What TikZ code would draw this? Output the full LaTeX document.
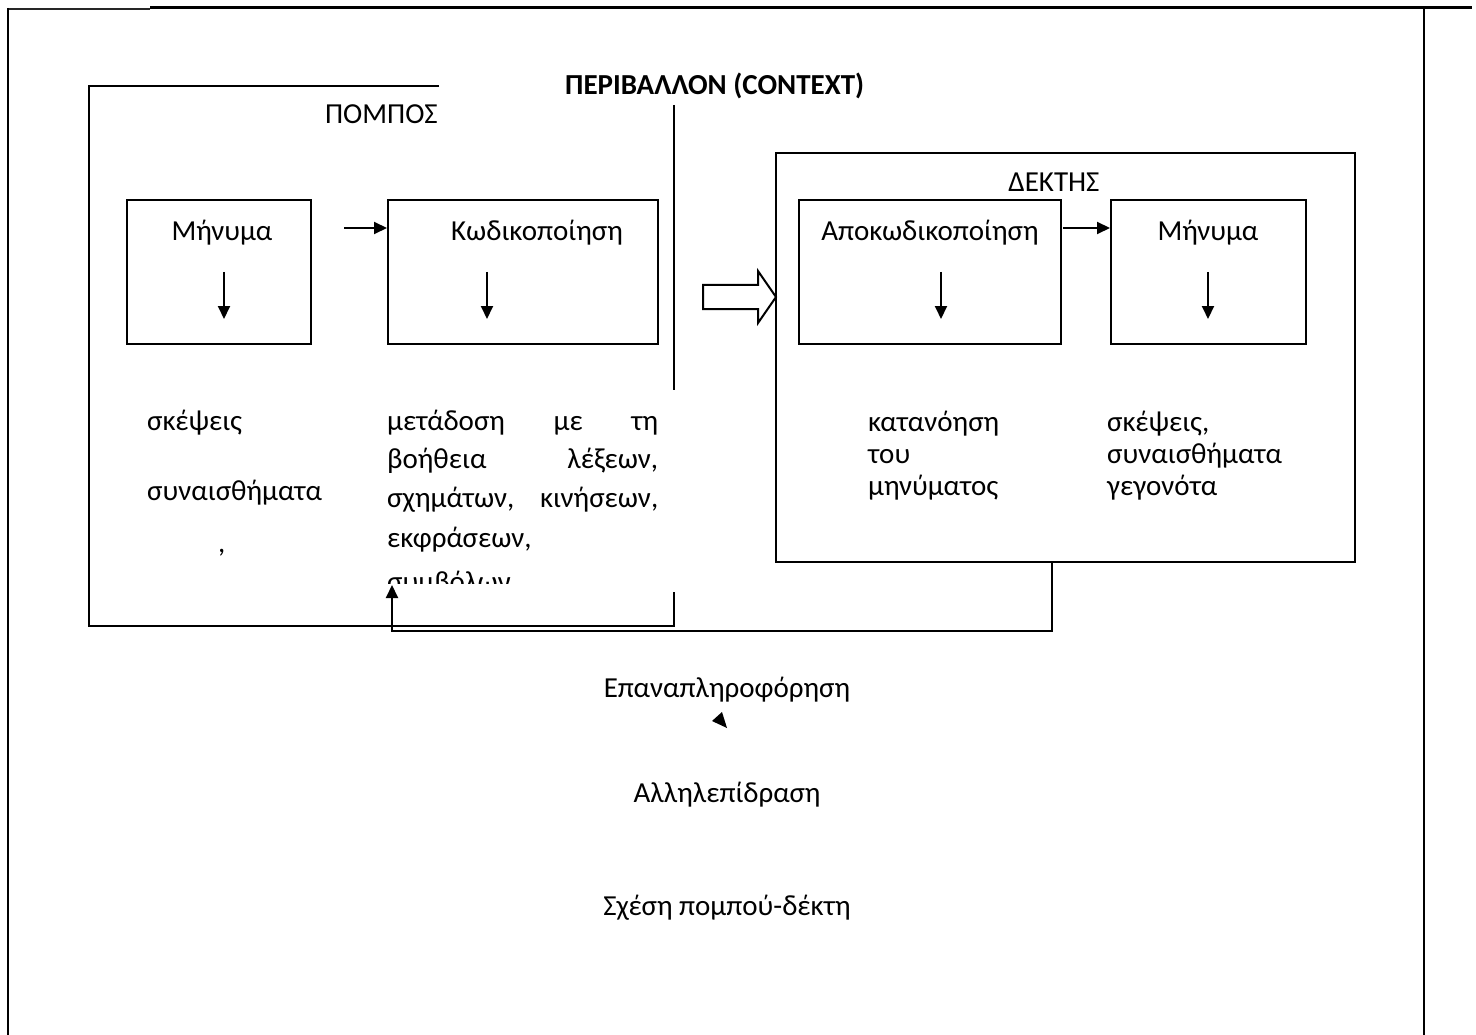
\documentclass[tikz,border=0pt]{standalone}
\usepackage{fontspec}
\setmainfont{Carlito}
\usetikzlibrary{arrows.meta,fit}

\begin{document}
\begin{tikzpicture}[x=1pt,y=-1pt,
  frame/.style={line width=2.6pt},
  box/.style={draw, line width=2pt, rectangle, inner sep=0pt},
  txt/.style={font=\fontsize{29}{35}\selectfont, inner sep=0pt},
  arr/.style={line width=2pt, -{Triangle[length=13pt,width=12pt]}},
]
\useasboundingbox (0,0) rectangle (1476,1035);

% page frame
\draw[line width=1.6pt, black!85] (7,9) -- (150,9);
\draw[frame] (150,7.5) -- (1472,7.5);
\draw[frame] (8,8) -- (8,1035);
\draw[frame] (1424,7.5) -- (1424,1035);

% sender frame (partly hidden under the context heading)
\draw[line width=2pt] (439,86) -- (89,86) -- (89,626) -- (674,626) -- (674,592);
\draw[line width=2pt] (674,105) -- (674,390);
\node[txt, anchor=base east] (sender) at (438,124) {ΠΟΜΠΟΣ};
\node[txt, anchor=base west, font=\fontsize{29}{35}\selectfont\bfseries] (context) at (565,95) {ΠΕΡΙΒΑΛΛΟΝ (CONTEXT)};

% receiver frame
\node[box, fit={(776,153) (1355,562)}] (receiver) {};
\node[txt, anchor=base] (receiverlbl) at (1054,192) {ΔΕΚΤΗΣ};

% inner boxes
\node[box, fit={(127,200) (311,344)}] (msgA) {};
\node[box, fit={(388,200) (658,344)}] (enc) {};
\node[box, fit={(799,200) (1061,344)}] (dec) {};
\node[box, fit={(1111,200) (1306,344)}] (msgB) {};

\node[txt, anchor=base] (msgAlbl) at (222,241) {Μήνυμα};
\node[txt, anchor=base] (enclbl) at (537,241) {Κωδικοποίηση};
\node[txt, anchor=base] (declbl) at (930,241) {Αποκωδικοποίηση};
\node[txt, anchor=base] (msgBlbl) at (1208,241) {Μήνυμα};

% horizontal arrows between boxes
\coordinate (a1) at (344,228);
\coordinate (a2) at (1063,228);
\draw[arr] (a1) -- (enc.west |- a1);
\draw[arr] (a2) -- (msgB.west |- a2);

% downward arrows inside boxes
\foreach \n/\x in {dA/224, dE/487, dD/941, dM/1208}{
  \coordinate (\n1) at (\x,272);
  \coordinate (\n2) at (\x,319);
  \draw[arr] (\n1) -- (\n2);
}

% hollow transmission arrow
\draw[line width=2pt, line join=miter, fill=white]
  (703,285) -- (758,285) -- (758,271) -- (776,297) -- (758,323) -- (758,309) -- (703,309) -- cycle;

% sender texts
\node[txt, anchor=base west] (t1) at (147,430) {σκέψεις};
\node[txt, anchor=base west] (t2) at (147,500) {συναισθήματα};
\node[txt, anchor=base west] (t3) at (218,552) {,};

\node[txt, anchor=base west] (m1) at (387,430) {\makebox[271pt][s]{μετάδοση με τη}};
\node[txt, anchor=base west] (m2) at (387,468) {\makebox[271pt][s]{βοήθεια λέξεων,}};
\node[txt, anchor=base west] (m3) at (387,507) {\makebox[271pt][s]{σχημάτων, κινήσεων,}};
\node[txt, anchor=base west] (m4) at (387,547) {εκφράσεων,};
\begin{scope}
  \clip (380,560) rectangle (680,583);
  \node[txt, anchor=base west] (m5) at (387,591) {συμβόλων};
\end{scope}

% receiver texts
\node[txt, anchor=base west] (r1) at (868,431) {κατανόηση};
\node[txt, anchor=base west] (r2) at (868,463) {του};
\node[txt, anchor=base west] (r3) at (868,495) {μηνύματος};
\node[txt, anchor=base west] (s1) at (1107,431) {σκέψεις,};
\node[txt, anchor=base west] (s2) at (1107,463) {συναισθήματα};
\node[txt, anchor=base west] (s3) at (1107,495) {γεγονότα};

% feedback loop
\coordinate (fb) at (392,585);
\draw[arr] (receiver.south -| 1052,0) -- (1052,631) -- (392,631) -- (fb);
\fill (712,721) -- (722,712) -- (727,728) -- cycle;

% lower captions
\node[txt, anchor=base] (c1) at (727,697) {Επαναπληροφόρηση};
\node[txt, anchor=base] (c2) at (727,802) {Αλληλεπίδραση};
\node[txt, anchor=base] (c3) at (727,915) {Σχέση πομπού-δέκτη};
\end{tikzpicture}
\end{document}
